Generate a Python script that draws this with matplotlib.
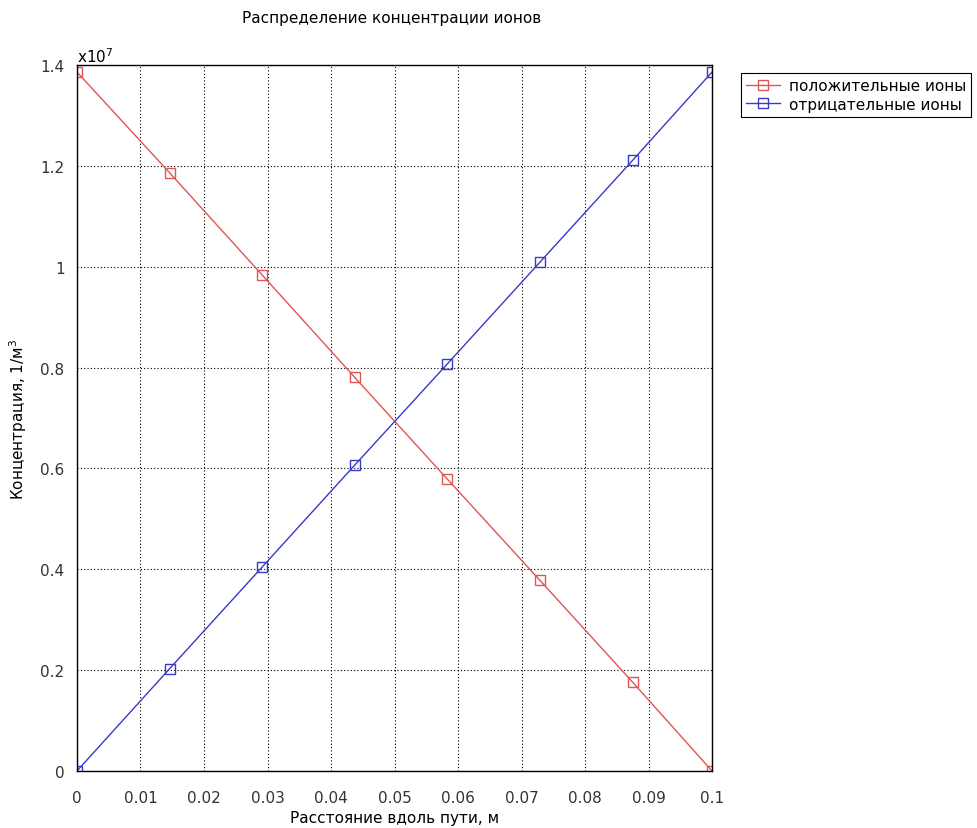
import matplotlib.pyplot as plt
import numpy as np

# данные
x_m = [0.0, 0.0146, 0.0292, 0.0437, 0.0583, 0.0729, 0.0875, 0.1]
pos_ions = [1.386e7, 1.186e7, 0.983e7, 0.781e7, 0.579e7, 0.378e7, 0.176e7, 0.0]
neg_ions = [0.0, 0.203e7, 0.405e7, 0.606e7, 0.807e7, 1.009e7, 1.211e7, 1.386e7]

x_ticks = [0, 0.01, 0.02, 0.03, 0.04, 0.05, 0.06, 0.07, 0.08, 0.09, 0.1]
x_ticklabels = ["0", "0.01", "0.02", "0.03", "0.04", "0.05", "0.06", "0.07", "0.08", "0.09", "0.1"]
y_ticks = [0, 0.2e7, 0.4e7, 0.6e7, 0.8e7, 1.0e7, 1.2e7, 1.4e7]
y_ticklabels = ["0", "0.2", "0.4", "0.6", "0.8", "1", "1.2", "1.4"]

plt.rcParams['font.family'] = ['DejaVu Sans']
plt.rcParams['font.size'] = 11

fig = plt.figure(figsize=(9.77, 8.29), dpi=100)
ax = fig.add_axes([0.0788, 0.0688, 0.650, 0.8516])

red = "#e05555"
blue = "#3a3ac8"
ax.plot(x_m, pos_ions, color=red, lw=1.0, marker="s", ms=7, mfc="none",
        mec=red, mew=1.0, label="положительные ионы")
ax.plot(x_m, neg_ions, color=blue, lw=1.0, marker="s", ms=7, mfc="none",
        mec=blue, mew=1.0, label="отрицательные ионы")

ax.set_xlim(0, 0.1)
ax.set_ylim(0, 1.4e7)
ax.set_xticks(x_ticks)
ax.set_xticklabels(x_ticklabels)
ax.set_yticks(y_ticks)
ax.set_yticklabels(y_ticklabels)
ax.tick_params(direction="in", length=0, labelcolor="#333333")
ax.tick_params(axis="x", pad=14)
ax.tick_params(axis="y", pad=9)
ax.grid(True, color="black", linestyle=(0, (1, 2)), lw=0.8)
for s in ax.spines.values():
    s.set_linewidth(1.0)

ax.text(0.0, 1.0, r"x10$^{7}$", transform=ax.transAxes, ha="left", va="bottom", fontsize=11)
ax.set_xlabel("Расстояние вдоль пути, м", labelpad=3)
ax.set_ylabel("Концентрация, 1/м$^3$", labelpad=8)
fig.text(392 / 977, 1 - 19 / 829, "Распределение концентрации ионов", ha="center", va="center", fontsize=11)

leg = fig.legend(loc="upper left", bbox_to_anchor=(733 / 977, 1 - 66 / 829),
                 fancybox=False, edgecolor="black", framealpha=1,
                 handlelength=2.2, handletextpad=0.6, borderpad=0.35,
                 labelspacing=0.25, fontsize=11)
leg.get_frame().set_linewidth(0.8)

fig.savefig("out.png", dpi=100)
